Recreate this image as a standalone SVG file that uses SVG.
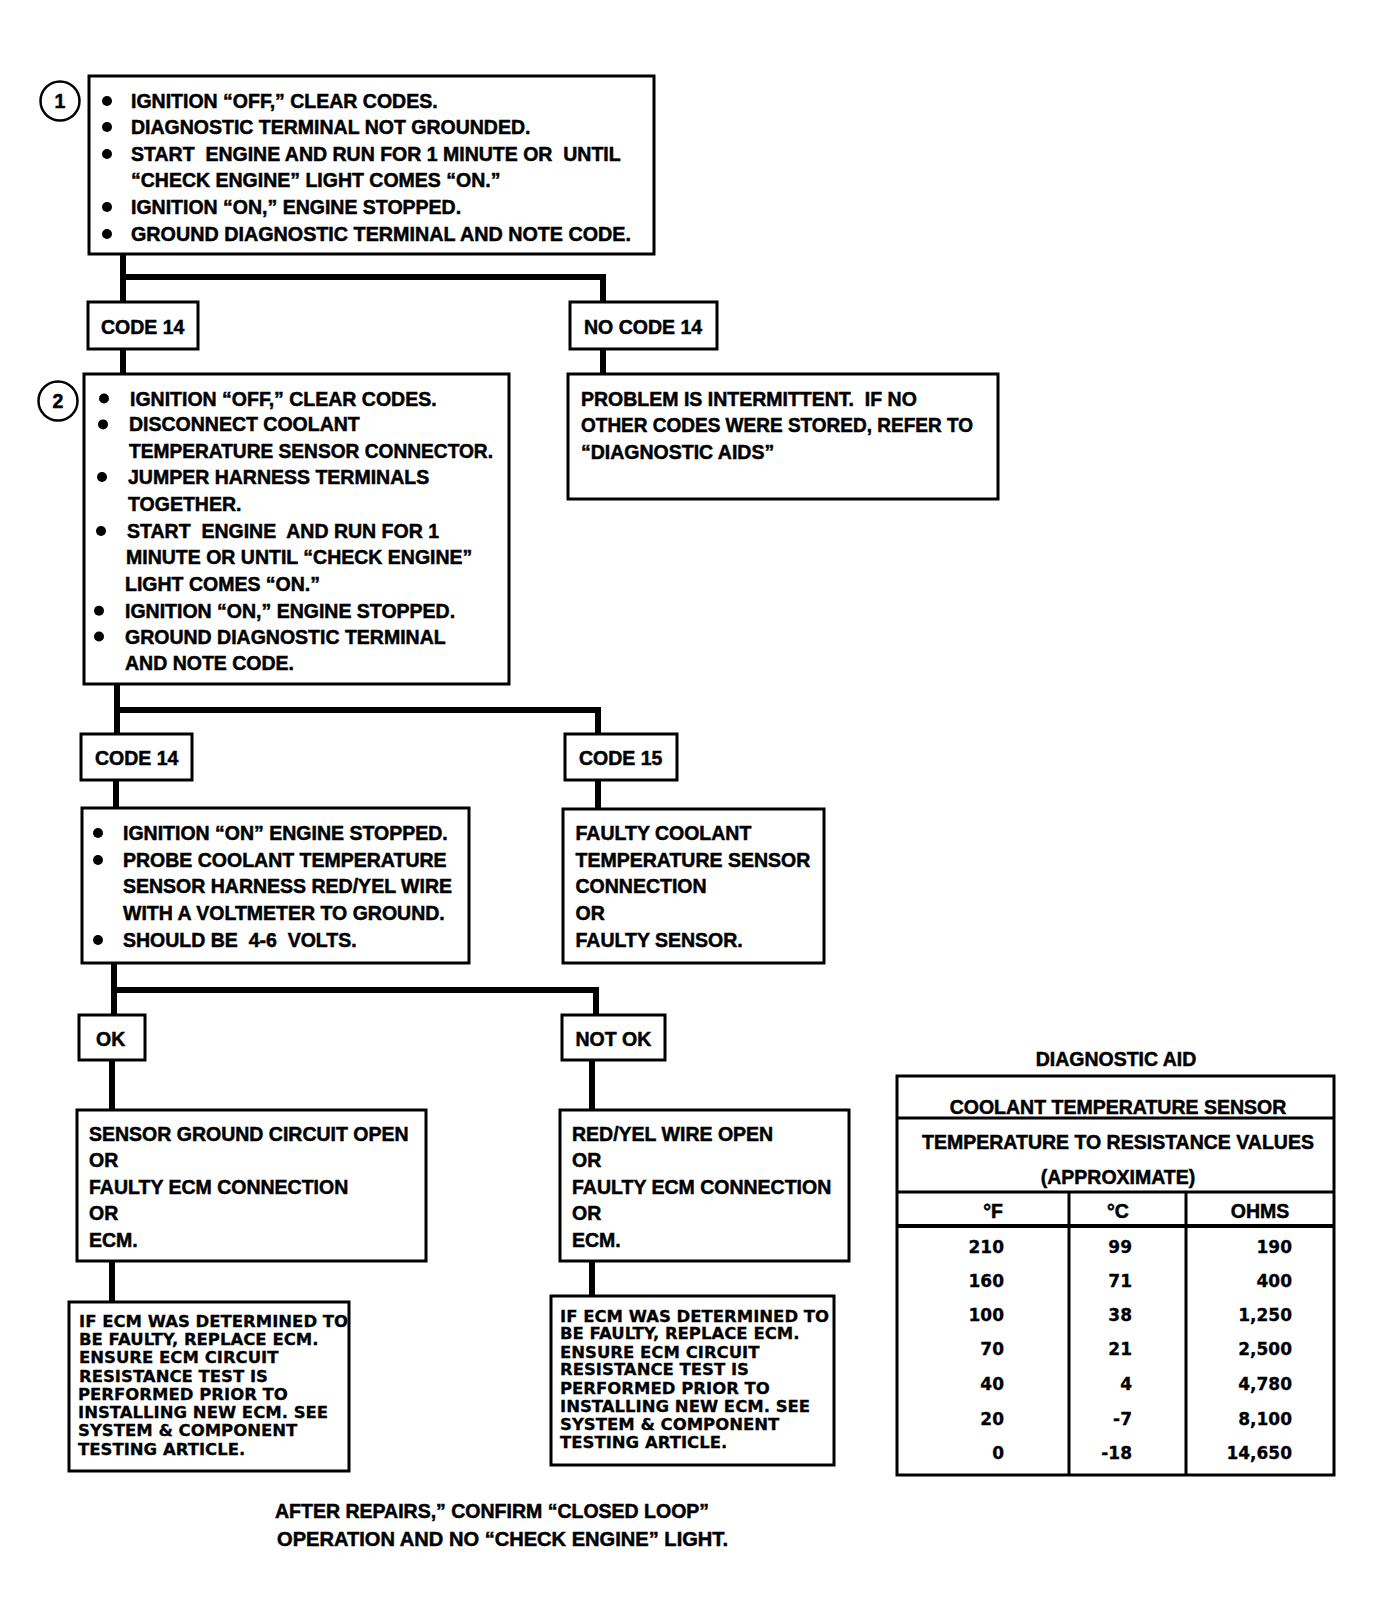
<svg xmlns="http://www.w3.org/2000/svg" width="1375" height="1621" viewBox="0 0 1375 1621">
<style>
text{font-family:"Liberation Sans",Arial,sans-serif;font-weight:bold;font-size:19.5px;fill:#000;stroke:#000;stroke-width:0.5;white-space:pre}
.box{fill:#fff;stroke:#000;stroke-width:3}
.conn{fill:none;stroke:#000;stroke-width:6;stroke-linejoin:miter}
.bul{fill:#000}
.num{fill:#fff;stroke:#000;stroke-width:2.5}
.note{font-family:"DejaVu Sans",Verdana,sans-serif;font-size:16.5px;stroke-width:0.3}
.dat{font-family:"DejaVu Sans",Verdana,sans-serif;font-size:17px;text-anchor:end;stroke-width:0.3}
.mid{text-anchor:middle}
.tl{stroke:#000;stroke-width:3;fill:none}
</style>
<rect width="1375" height="1621" fill="#fff"/>
<g id="connectors">
<path class="conn" d="M123,254 V302 M123,277 H603 V302"/>
<path class="conn" d="M123,349 V374"/>
<path class="conn" d="M603,349 V374"/>
<path class="conn" d="M117,684 V734 M117,710 H598 V734"/>
<path class="conn" d="M116,780 V808"/>
<path class="conn" d="M598,780 V809"/>
<path class="conn" d="M114,963 V1015 M114,990 H596 V1015"/>
<path class="conn" d="M112,1060 V1110"/>
<path class="conn" d="M592,1060 V1110"/>
<path class="conn" d="M112,1261 V1302"/>
<path class="conn" d="M592,1261 V1296"/>
</g>
<g id="step1">
<circle class="num" cx="60" cy="101" r="19.5"/>
<text class="mid" x="60" y="108">1</text>
<rect class="box" x="89" y="76" width="565" height="178"/>
<circle class="bul" cx="107" cy="101" r="5"/>
<circle class="bul" cx="107" cy="127" r="5"/>
<circle class="bul" cx="107" cy="154" r="5"/>
<circle class="bul" cx="107" cy="207" r="5"/>
<circle class="bul" cx="107" cy="234" r="5"/>
<text x="131" y="108">IGNITION “OFF,” CLEAR CODES.</text>
<text x="131" y="134">DIAGNOSTIC TERMINAL NOT GROUNDED.</text>
<text x="131" y="161">START  ENGINE AND RUN FOR 1 MINUTE OR  UNTIL</text>
<text x="131" y="187">“CHECK ENGINE” LIGHT COMES “ON.”</text>
<text x="131" y="214">IGNITION “ON,” ENGINE STOPPED.</text>
<text x="131" y="241" textLength="500" lengthAdjust="spacingAndGlyphs">GROUND DIAGNOSTIC TERMINAL AND NOTE CODE.</text>
</g>
<g id="code14a">
<rect class="box" x="88" y="302" width="110" height="47"/>
<text x="101" y="334">CODE 14</text>
</g>
<g id="nocode14">
<rect class="box" x="570" y="302" width="147" height="47"/>
<text x="584" y="334">NO CODE 14</text>
</g>
<g id="step2">
<circle class="num" cx="58" cy="401" r="19.5"/>
<text class="mid" x="58" y="408">2</text>
<rect class="box" x="84" y="374" width="425" height="310"/>
<circle class="bul" cx="104" cy="398.5" r="5"/>
<circle class="bul" cx="103" cy="424.4" r="5"/>
<circle class="bul" cx="102" cy="477" r="5"/>
<circle class="bul" cx="101" cy="531" r="5"/>
<circle class="bul" cx="99" cy="610.7" r="5"/>
<circle class="bul" cx="99" cy="636.5" r="5"/>
<text x="130" y="405.5">IGNITION “OFF,” CLEAR CODES.</text>
<text x="129" y="431.4">DISCONNECT COOLANT</text>
<text x="129" y="458.3" textLength="364" lengthAdjust="spacingAndGlyphs">TEMPERATURE SENSOR CONNECTOR.</text>
<text x="128" y="484.1">JUMPER HARNESS TERMINALS</text>
<text x="128" y="511">TOGETHER.</text>
<text x="127" y="538">START  ENGINE  AND RUN FOR 1</text>
<text x="126" y="563.8">MINUTE OR UNTIL “CHECK ENGINE”</text>
<text x="125" y="590.7">LIGHT COMES “ON.”</text>
<text x="125" y="617.7">IGNITION “ON,” ENGINE STOPPED.</text>
<text x="125" y="643.5">GROUND DIAGNOSTIC TERMINAL</text>
<text x="125" y="670.4">AND NOTE CODE.</text>
</g>
<g id="intermittent">
<rect class="box" x="568" y="374" width="430" height="125"/>
<text x="581" y="405.5">PROBLEM IS INTERMITTENT.  IF NO</text>
<text x="581" y="432.4" textLength="392" lengthAdjust="spacingAndGlyphs">OTHER CODES WERE STORED, REFER TO</text>
<text x="581" y="459.3">“DIAGNOSTIC AIDS”</text>
</g>
<g id="code14b">
<rect class="box" x="81" y="734" width="111" height="46"/>
<text x="95" y="765">CODE 14</text>
</g>
<g id="code15">
<rect class="box" x="565" y="734" width="112" height="46"/>
<text x="579" y="765">CODE 15</text>
</g>
<g id="step3">
<rect class="box" x="82" y="808" width="387" height="155"/>
<circle class="bul" cx="98" cy="833" r="5"/>
<circle class="bul" cx="98" cy="860" r="5"/>
<circle class="bul" cx="98" cy="940" r="5"/>
<text x="123" y="840">IGNITION “ON” ENGINE STOPPED.</text>
<text x="123" y="867">PROBE COOLANT TEMPERATURE</text>
<text x="123" y="893">SENSOR HARNESS RED/YEL WIRE</text>
<text x="123" y="920">WITH A VOLTMETER TO GROUND.</text>
<text x="123" y="947">SHOULD BE  4-6  VOLTS.</text>
</g>
<g id="faultysensor">
<rect class="box" x="563" y="809" width="261" height="154"/>
<text x="575.5" y="840">FAULTY COOLANT</text>
<text x="575.5" y="867">TEMPERATURE SENSOR</text>
<text x="575.5" y="893">CONNECTION</text>
<text x="575.5" y="920">OR</text>
<text x="575.5" y="947">FAULTY SENSOR.</text>
</g>
<g id="ok">
<rect class="box" x="79" y="1015" width="66" height="45"/>
<text x="96" y="1046">OK</text>
</g>
<g id="notok">
<rect class="box" x="562" y="1015" width="103" height="45"/>
<text x="575.5" y="1046">NOT OK</text>
</g>
<g id="okresult">
<rect class="box" x="77" y="1110" width="349" height="151"/>
<text x="89" y="1141">SENSOR GROUND CIRCUIT OPEN</text>
<text x="89" y="1167">OR</text>
<text x="89" y="1194">FAULTY ECM CONNECTION</text>
<text x="89" y="1220">OR</text>
<text x="89" y="1247">ECM.</text>
</g>
<g id="notokresult">
<rect class="box" x="560" y="1110" width="289" height="151"/>
<text x="572" y="1141">RED/YEL WIRE OPEN</text>
<text x="572" y="1167">OR</text>
<text x="572" y="1194">FAULTY ECM CONNECTION</text>
<text x="572" y="1220">OR</text>
<text x="572" y="1247">ECM.</text>
</g>
<g id="noteleft">
<rect class="box" x="69" y="1302" width="280" height="169"/>
<text class="note" x="79" y="1327">IF ECM WAS DETERMINED TO</text>
<text class="note" x="79" y="1345">BE FAULTY, REPLACE ECM.</text>
<text class="note" x="79" y="1363">ENSURE ECM CIRCUIT</text>
<text class="note" x="79" y="1381.5">RESISTANCE TEST IS</text>
<text class="note" x="78" y="1400">PERFORMED PRIOR TO</text>
<text class="note" x="78" y="1418">INSTALLING NEW ECM. SEE</text>
<text class="note" x="78" y="1436">SYSTEM &amp; COMPONENT</text>
<text class="note" x="78" y="1455">TESTING ARTICLE.</text>
</g>
<g id="noteright">
<rect class="box" x="551" y="1296" width="283" height="169"/>
<text class="note" x="560" y="1321.5">IF ECM WAS DETERMINED TO</text>
<text class="note" x="560" y="1339">BE FAULTY, REPLACE ECM.</text>
<text class="note" x="560" y="1357.7">ENSURE ECM CIRCUIT</text>
<text class="note" x="560" y="1375.3">RESISTANCE TEST IS</text>
<text class="note" x="560" y="1394">PERFORMED PRIOR TO</text>
<text class="note" x="560" y="1411.5">INSTALLING NEW ECM. SEE</text>
<text class="note" x="560" y="1430">SYSTEM &amp; COMPONENT</text>
<text class="note" x="560" y="1448">TESTING ARTICLE.</text>
</g>
<g id="footer">
<text x="275" y="1518">AFTER REPAIRS,” CONFIRM “CLOSED LOOP”</text>
<text x="277" y="1546" textLength="451" lengthAdjust="spacingAndGlyphs">OPERATION AND NO “CHECK ENGINE” LIGHT.</text>
</g>
<g id="diagnosticaid">
<text class="mid" x="1116" y="1066">DIAGNOSTIC AID</text>
<rect class="box" x="897" y="1076" width="437" height="399"/>
<line class="tl" x1="897" y1="1118" x2="1334" y2="1118" stroke-width="2.5"/>
<line class="tl" x1="897" y1="1192" x2="1334" y2="1192"/>
<line class="tl" x1="897" y1="1226" x2="1334" y2="1226" style="stroke-width:4"/>
<line class="tl" x1="1069" y1="1192" x2="1069" y2="1475"/>
<line class="tl" x1="1186" y1="1192" x2="1186" y2="1475"/>
<text class="mid" x="1118" y="1114">COOLANT TEMPERATURE SENSOR</text>
<text class="mid" x="1118" y="1149">TEMPERATURE TO RESISTANCE VALUES</text>
<text class="mid" x="1118" y="1184">(APPROXIMATE)</text>
<text class="mid" x="993" y="1218">°F</text>
<text class="mid" x="1118" y="1218">°C</text>
<text class="mid" x="1260" y="1218">OHMS</text>
<text class="dat" x="1004" y="1252.5">210</text>
<text class="dat" x="1132" y="1252.5">99</text>
<text class="dat" x="1292" y="1252.5">190</text>
<text class="dat" x="1004" y="1286.8">160</text>
<text class="dat" x="1132" y="1286.8">71</text>
<text class="dat" x="1292" y="1286.8">400</text>
<text class="dat" x="1004" y="1321">100</text>
<text class="dat" x="1132" y="1321">38</text>
<text class="dat" x="1292" y="1321">1,250</text>
<text class="dat" x="1004" y="1355">70</text>
<text class="dat" x="1132" y="1355">21</text>
<text class="dat" x="1292" y="1355">2,500</text>
<text class="dat" x="1004" y="1390">40</text>
<text class="dat" x="1132" y="1390">4</text>
<text class="dat" x="1292" y="1390">4,780</text>
<text class="dat" x="1004" y="1424.5">20</text>
<text class="dat" x="1132" y="1424.5">-7</text>
<text class="dat" x="1292" y="1424.5">8,100</text>
<text class="dat" x="1004" y="1458.5">0</text>
<text class="dat" x="1132" y="1458.5">-18</text>
<text class="dat" x="1292" y="1458.5">14,650</text>
</g>
</svg>
